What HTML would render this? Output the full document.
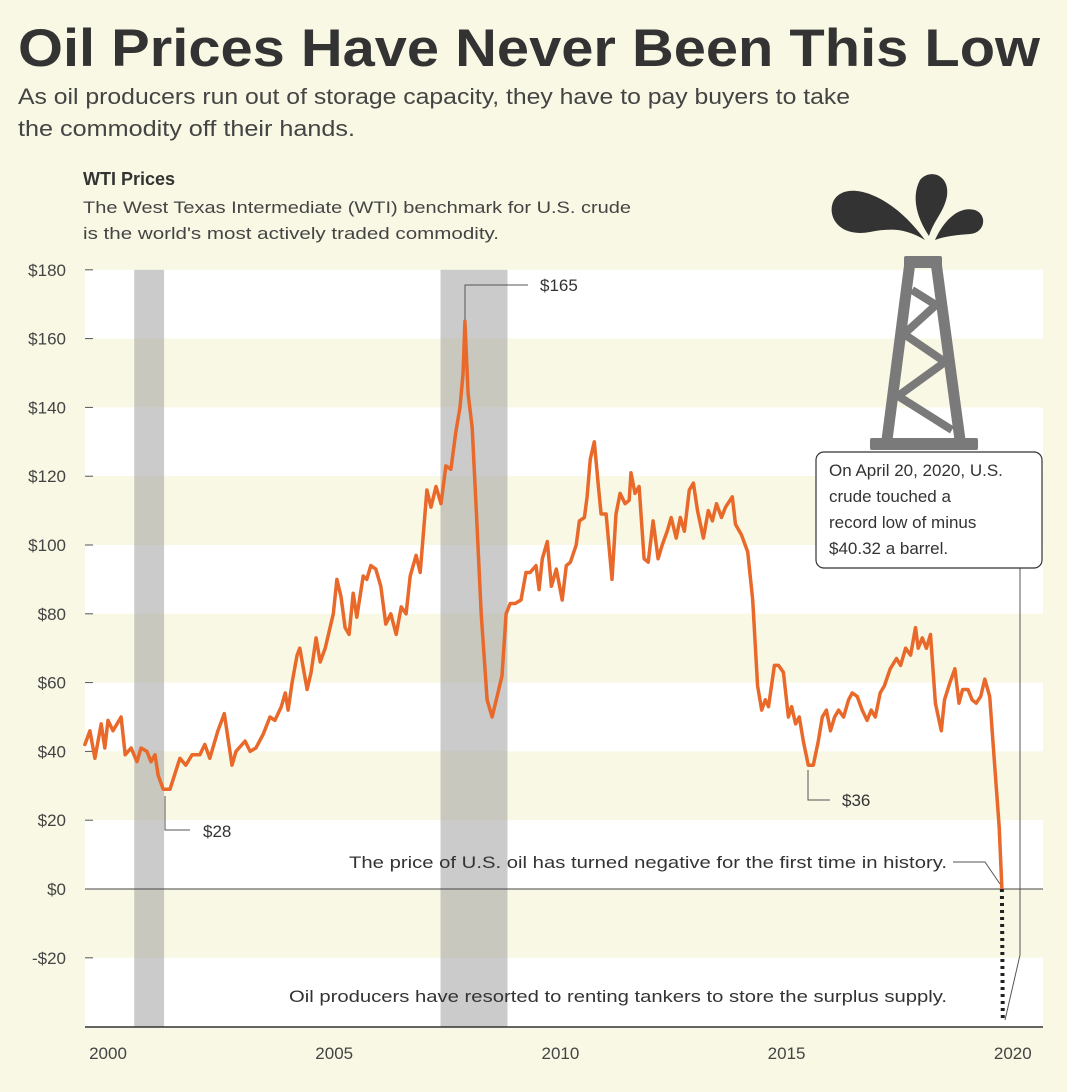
<!DOCTYPE html>
<html><head><meta charset="utf-8">
<style>
html,body{margin:0;padding:0;background:#f9f8e4;}
svg{display:block;font-family:"Liberation Sans",sans-serif;}
</style></head>
<body>
<svg id="chart" width="1067" height="1092" viewBox="0 0 1067 1092">
<rect x="0" y="0" width="1067" height="1092" fill="#f9f8e4"/>
<text x="18" y="66" font-size="53" font-weight="bold" fill="#333" textLength="1022" lengthAdjust="spacingAndGlyphs">Oil Prices Have Never Been This Low</text>
<text x="18" y="104" font-size="22" fill="#444" textLength="832" lengthAdjust="spacingAndGlyphs">As oil producers run out of storage capacity, they have to pay buyers to take</text>
<text x="18" y="136" font-size="22" fill="#444" textLength="337" lengthAdjust="spacingAndGlyphs">the commodity off their hands.</text>
<text x="83" y="185" font-size="18" font-weight="bold" fill="#333">WTI Prices</text>
<text x="83" y="213" font-size="17" fill="#444" textLength="548" lengthAdjust="spacingAndGlyphs">The West Texas Intermediate (WTI) benchmark for U.S. crude</text>
<text x="83" y="239" font-size="17" fill="#444" textLength="416" lengthAdjust="spacingAndGlyphs">is the world's most actively traded commodity.</text>
<g id="bands"></g>
<g id="recessions"></g>
<g id="yaxis"></g>
<g id="xaxis"></g>
<g id="series"></g>
<g>
<path d="M870,232 C838,238 826,215 834,200 C846,180 890,192 925,240 C905,228 890,228 870,232Z" fill="#333"/>
<path d="M929,236 C915,215 912,195 920,180 C930,168 950,175 947,196 C944,212 934,220 929,236Z" fill="#333"/>
<path d="M935,240 C945,218 960,206 975,210 C988,215 985,233 970,234 C958,235 945,236 935,240Z" fill="#333"/>
<rect x="904" y="256" width="38" height="12" rx="2" fill="#7a7a7a"/>
<line x1="910" y1="262" x2="887" y2="440" stroke="#7a7a7a" stroke-width="11"/>
<line x1="936" y1="262" x2="960" y2="440" stroke="#7a7a7a" stroke-width="11"/>
<polyline points="912,290 936,305 904,334 945,362 898,396 952,430" fill="none" stroke="#7a7a7a" stroke-width="8" stroke-linejoin="miter"/>
<rect x="870" y="438" width="108" height="12" rx="2" fill="#7a7a7a"/>
</g>
<g id="annotations"></g>
</svg>
<script>
const dates=[1999.49,1999.60,1999.71,1999.85,1999.93,2000.00,2000.11,2000.29,2000.38,2000.51,2000.64,2000.73,2000.86,2000.95,2001.04,2001.11,2001.22,2001.37,2001.59,2001.72,2001.86,2002.03,2002.14,2002.25,2002.43,2002.57,2002.74,2002.83,2003.03,2003.14,2003.27,2003.43,2003.58,2003.69,2003.83,2003.92,2003.98,2004.07,2004.18,2004.24,2004.40,2004.49,2004.60,2004.69,2004.80,2004.98,2005.06,2005.15,2005.24,2005.33,2005.42,2005.50,2005.64,2005.72,2005.81,2005.92,2006.03,2006.14,2006.25,2006.37,2006.48,2006.59,2006.68,2006.81,2006.90,2007.05,2007.14,2007.25,2007.36,2007.47,2007.58,2007.69,2007.78,2007.85,2007.89,2007.96,2008.05,2008.14,2008.25,2008.38,2008.49,2008.60,2008.71,2008.80,2008.89,2009.00,2009.13,2009.24,2009.33,2009.46,2009.53,2009.60,2009.71,2009.80,2009.91,2010.04,2010.13,2010.22,2010.35,2010.42,2010.53,2010.59,2010.66,2010.75,2010.84,2010.90,2011.01,2011.14,2011.23,2011.32,2011.43,2011.52,2011.56,2011.65,2011.74,2011.85,2011.94,2012.05,2012.16,2012.25,2012.36,2012.45,2012.56,2012.65,2012.74,2012.85,2012.94,2013.03,2013.16,2013.27,2013.36,2013.45,2013.56,2013.65,2013.80,2013.87,2014.00,2014.14,2014.25,2014.36,2014.45,2014.53,2014.60,2014.73,2014.82,2014.93,2015.04,2015.11,2015.20,2015.28,2015.37,2015.48,2015.59,2015.70,2015.79,2015.88,2015.97,2016.06,2016.15,2016.26,2016.37,2016.45,2016.56,2016.67,2016.78,2016.87,2016.96,2017.07,2017.16,2017.29,2017.43,2017.52,2017.63,2017.74,2017.85,2017.91,2018.00,2018.09,2018.18,2018.29,2018.42,2018.49,2018.61,2018.72,2018.81,2018.89,2019.01,2019.10,2019.19,2019.29,2019.38,2019.49,2019.56,2019.70,2019.76];
const prices=[42,46,38,48,41,49,46,50,39,41,37,41,40,37,39,33,29,29,38,36,39,39,42,38,46,51,36,40,43,40,41,45,50,49,53,57,52,60,68,70,58,63,73,66,70,80,90,85,76,74,86,79,91,90,94,93,88,77,80,74,82,80,91,97,92,116,111,117,112,123,122,133,140,150,165,144,134,110,80,55,50,56,62,80,83,83,84,92,92,94,87,96,101,88,93,84,94,95,100,107,108,114,125,130,117,109,109,90,109,115,112,113,121,115,117,96,95,107,96,100,104,108,102,108,104,116,118,110,102,110,107,112,108,111,114,106,103,98,84,59,52,55,53,65,65,63,50,53,48,50,43,36,36,43,50,52,46,50,52,50,55,57,56,52,49,52,50,57,59,64,67,65,70,68,76,70,73,70,74,54,46,55,60,64,54,58,58,55,54,56,61,56,43,18,0];
const negDates=[2019.76,2019.78];
const negPrices=[0,-38];
const yTicks=[180,160,140,120,100,80,60,40,20,0,-20];
const yTickLabels=["$180","$160","$140","$120","$100","$80","$60","$40","$20","$0","-$20"];
const xTicks=[2000,2005,2010,2015,2020];
const recessionStarts=[2000.58,2007.35];
const recessionEnds=[2001.24,2008.83];
const NS="http://www.w3.org/2000/svg";
const X0=85,X1=1043;
function xs(y){return 108+(y-2000)*45.24;}
function ys(v){return 889-v*3.44;}
function mk(tag,attrs,parent){const e=document.createElementNS(NS,tag);for(const k in attrs)e.setAttribute(k,attrs[k]);parent.appendChild(e);return e;}
const bands=document.getElementById('bands');
for(let v=180;v>-40;v-=20){
  const idx=(180-v)/20;
  const r=mk('rect',{x:X0,y:ys(v),width:X1-X0,height:ys(v-20)-ys(v),fill:idx%2===0?'#ffffff':'#f9f8e4'},bands);
  
  
}
const rec=document.getElementById('recessions');
for(let i=0;i<recessionStarts.length;i++){
  const r=mk('rect',{x:xs(recessionStarts[i]),y:ys(180),width:xs(recessionEnds[i])-xs(recessionStarts[i]),height:ys(-40)-ys(180),fill:'#a0a0a0','fill-opacity':0.55},rec);
  
  
}
const ya=document.getElementById('yaxis');
yTicks.forEach((v,i)=>{
  const t=mk('text',{x:66,y:ys(v)+6,'font-size':17,fill:'#444','text-anchor':'end'},ya);
  t.textContent=yTickLabels[i];
  
  
  const l=mk('line',{x1:X0,x2:X0+8,y1:ys(v),y2:ys(v),stroke:'#555','stroke-width':1},ya);
  
  
});
const zl=mk('line',{x1:X0,x2:X1,y1:ys(0),y2:ys(0),stroke:'#444','stroke-width':1},ya);


const xa=document.getElementById('xaxis');
const al=mk('line',{x1:X0,x2:X1,y1:1027,y2:1027,stroke:'#333','stroke-width':1.5},xa);


xTicks.forEach(v=>{
  const t=mk('text',{x:xs(v),y:1059,'font-size':17,fill:'#444','text-anchor':'middle'},xa);
  t.textContent=String(v);
  
  
});
const se=document.getElementById('series');
const pts=dates.map((d,i)=>xs(d).toFixed(1)+','+ys(prices[i]).toFixed(1)).join(' ');
const pl=mk('polyline',{points:pts,fill:'none',stroke:'#e8692a','stroke-width':3.5,'stroke-linejoin':'round','stroke-linecap':'round'},se);


const npts=negDates.map((d,i)=>xs(d).toFixed(1)+','+ys(negPrices[i]).toFixed(1)).join(' ');
const nl=mk('polyline',{points:npts,fill:'none',stroke:'#222','stroke-width':4,'stroke-dasharray':'3 4'},se);


const an=document.getElementById('annotations');
function callout(d,name){const p=mk('path',{d:d,fill:'none',stroke:'#555','stroke-width':1},an);}
function label(x,y,s,txt,name,anchor,len){const a={x:x,y:y,'font-size':s,fill:'#333','text-anchor':anchor||'start'};if(len){a.textLength=len;a.lengthAdjust='spacingAndGlyphs';}const t=mk('text',a,an);t.textContent=txt;}
callout('M465,320 V285 H528','peak-callout-line');
label(540,291,17,'$165','peak-label');
callout('M165,796 V830 H190','low-2001-callout-line');
label(203,837,17,'$28','low-2001-label');
callout('M808,770 V800 H830','low-2016-callout-line');
label(842,806,17,'$36','low-2016-label');
callout('M953,862 H985 L1000,884','negative-callout-line');
label(947,868,17,'The price of U.S. oil has turned negative for the first time in history.','negative-note','end',598);
label(947,1002,17,'Oil producers have resorted to renting tankers to store the surplus supply.','tanker-note','end',658);
callout('M1020,568 V955 L1005,1020','record-low-callout-line');
const box=mk('rect',{x:816,y:452,width:226,height:116,rx:8,fill:'#fff',stroke:'#333','stroke-width':1.2},an);


label(829,476,17,'On April 20, 2020, U.S.','record-low-text-1');
label(829,502,17,'crude touched a','record-low-text-2');
label(829,528,17,'record low of minus','record-low-text-3');
label(829,554,17,'$40.32 a barrel.','record-low-text-4');
</script>
</body></html>
